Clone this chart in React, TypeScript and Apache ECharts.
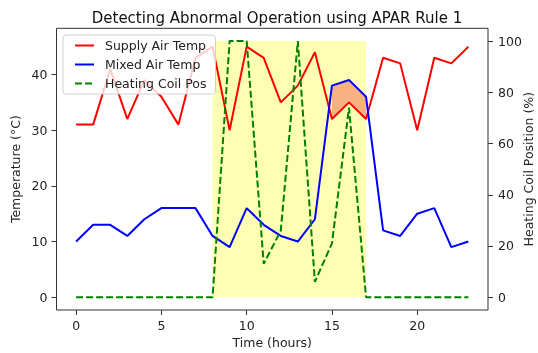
import React, { useEffect, useRef } from "react";
import * as echarts from "echarts";

const HOURS = [0, 1, 2, 3, 4, 5, 6, 7, 8, 9, 10, 11, 12, 13, 14, 15, 16, 17, 18, 19, 20, 21, 22, 23];
const SUPPLY_AIR_TEMP = [31, 31, 41, 32, 39, 36, 31, 43, 45, 30, 45, 43, 35, 38, 44, 32, 35, 32, 43, 42, 30, 43, 42, 45];
const MIXED_AIR_TEMP = [10, 13, 13, 11, 14, 16, 16, 16, 11, 9, 16, 13, 11, 10, 14, 38, 39, 36, 12, 11, 15, 16, 9, 10];
const HEATING_COIL_POS = [0, 0, 0, 0, 0, 0, 0, 0, 0, 100, 100, 13, 26, 100, 6, 21, 74, 0, 0, 0, 0, 0, 0, 0];
const X_TICKS = [0, 5, 10, 15, 20];
const TEMP_TICKS = [0, 10, 20, 30, 40];
const POS_TICKS = [0, 20, 40, 60, 80, 100];
const SPAN_START = 8;
const SPAN_END = 17;
const SPAN_BOTTOM = 0;
const SPAN_TOP = 46;

const FONT = "DejaVu Sans";

export default function App() {
  const ref = useRef<HTMLDivElement>(null);
  useEffect(() => {
    document.body.style.margin = "0";
    const chart = echarts.init(ref.current!, null, { renderer: "svg" });
    const supply = HOURS.map((h, i) => [h, SUPPLY_AIR_TEMP[i]]);
    const mixed = HOURS.map((h, i) => [h, MIXED_AIR_TEMP[i]]);
    const coil = HOURS.map((h, i) => [h, HEATING_COIL_POS[i]]);
    // indices where mixed > supply
    const abnormal = HOURS.map((_, i) => i).filter((i) => MIXED_AIR_TEMP[i] > SUPPLY_AIR_TEMP[i]);

    const axisLabelStyle = { color: "#222", fontSize: 12.5, fontFamily: FONT };
    const tick = (vals: number[]) => ({
      show: true,
      length: 5,
      inside: false,
      lineStyle: { color: "#333" },
      customValues: vals,
    });
    chart.setOption({
      animation: false,
      title: {
        text: "Detecting Abnormal Operation using APAR Rule 1",
        left: 272,
        top: 5,
        textAlign: "center",
        textStyle: { color: "#111", fontSize: 15, fontWeight: "normal", fontFamily: FONT },
      },
      grid: {
        left: 56.5,
        right: 50,
        top: 28.3,
        bottom: 43,
        outerBoundsMode: "none",
        containLabel: false,
        show: true,
        borderColor: "#333",
        borderWidth: 1,
        backgroundColor: "transparent",
      },
      legend: {
        orient: "vertical",
        left: 63,
        top: 35,
        data: ["Supply Air Temp", "Mixed Air Temp", "Heating Coil Pos"],
        itemWidth: 19,
        itemHeight: 14,
        itemGap: 6,
        padding: [4, 9, 4, 11],
        backgroundColor: "rgba(255,255,255,0.8)",
        borderColor: "#d0d0d0",
        borderWidth: 1,
        borderRadius: 3,
        itemStyle: { opacity: 0 },
        textStyle: { color: "#222", fontSize: 12.5, fontFamily: FONT, padding: [0, 0, 0, 6] },
      },
      xAxis: {
        type: "value",
        min: -1.15,
        max: 24.15,
        name: "Time (hours)",
        nameLocation: "middle",
        nameGap: 26,
        nameMoveOverlap: false,
        nameTextStyle: { color: "#222", fontSize: 12.5, fontFamily: FONT },
        axisLine: { show: false, onZero: false },
        axisTick: tick(X_TICKS),
        axisLabel: { ...axisLabelStyle, margin: 9, customValues: X_TICKS },
        splitLine: { show: false },
      },
      yAxis: [
        {
          type: "value",
          min: -2.3,
          max: 48.3,
          position: "left",
          name: "Temperature (°C)",
          nameLocation: "middle",
          nameRotate: 90,
          nameGap: 34.5,
          nameMoveOverlap: false,
          nameTextStyle: { color: "#222", fontSize: 12.5, fontFamily: FONT },
          axisLine: { show: false, onZero: false },
          axisTick: tick(TEMP_TICKS),
          axisLabel: { ...axisLabelStyle, margin: 9, customValues: TEMP_TICKS },
          splitLine: { show: false },
        },
        {
          type: "value",
          min: -5,
          max: 105,
          position: "right",
          name: "Heating Coil Position (%)",
          nameLocation: "middle",
          nameRotate: 90,
          nameGap: 34,
          nameMoveOverlap: false,
          nameTextStyle: { color: "#222", fontSize: 12.5, fontFamily: FONT },
          axisLine: { show: false, onZero: false },
          axisTick: tick(POS_TICKS),
          axisLabel: { ...axisLabelStyle, margin: 10, customValues: POS_TICKS },
          splitLine: { show: false },
        },
      ],
      series: [
        {
          type: "custom",
          name: "span",
          xAxisIndex: 0,
          yAxisIndex: 0,
          z: 1,
          silent: true,
          data: [[SPAN_START, SPAN_BOTTOM, SPAN_END, SPAN_TOP]],
          renderItem: (params: any, api: any) => {
            const p1 = api.coord([api.value(0), api.value(3)]);
            const p2 = api.coord([api.value(2), api.value(1)]);
            return {
              type: "rect",
              shape: { x: p1[0], y: p1[1], width: p2[0] - p1[0], height: p2[1] - p1[1] },
              style: { fill: "#ffffb3" },
            };
          },
        },
        {
          type: "custom",
          name: "abnormal",
          xAxisIndex: 0,
          yAxisIndex: 0,
          z: 2,
          silent: true,
          data: [[0]],
          renderItem: (params: any, api: any) => {
            const top = abnormal.map((i) => api.coord([HOURS[i], MIXED_AIR_TEMP[i]]));
            const bottom = abnormal
              .slice()
              .reverse()
              .map((i) => api.coord([HOURS[i], SUPPLY_AIR_TEMP[i]]));
            return {
              type: "polygon",
              shape: { points: [...top, ...bottom] },
              style: { fill: "#f9b183" },
            };
          },
        },
        {
          type: "line",
          name: "Supply Air Temp",
          yAxisIndex: 0,
          z: 3,
          data: supply,
          showSymbol: false,
          symbol: "none",
          color: "#ff0000",
          lineStyle: { color: "#ff0000", width: 2 },
        },
        {
          type: "line",
          name: "Mixed Air Temp",
          yAxisIndex: 0,
          z: 3,
          data: mixed,
          showSymbol: false,
          symbol: "none",
          color: "#0000ff",
          lineStyle: { color: "#0000ff", width: 2 },
        },
        {
          type: "line",
          name: "Heating Coil Pos",
          yAxisIndex: 1,
          z: 3,
          data: coil,
          showSymbol: false,
          symbol: "none",
          color: "#008000",
          lineStyle: { color: "#008000", width: 2, type: [7, 3] },
        },
      ],
    });
    return () => chart.dispose();
  }, []);
  return <div ref={ref} style={{ position: "fixed", left: 0, top: 0, width: 538, height: 353 }} />;
}
